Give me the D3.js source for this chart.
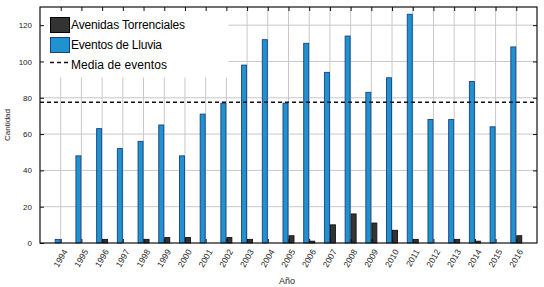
<!DOCTYPE html>
<html lang="en">
<head>
<meta charset="utf-8">
<title>Avenidas torrenciales y eventos de lluvia</title>
<script src="https://d3js.org/d3.v7.min.js"></script>
<style>
	body { margin: 0; background: #fff; }
	svg text { font-family: "Liberation Sans", Arial, Helvetica, sans-serif; fill: #222; }
</style>
</head>
<body>
<svg id="chart"></svg>
<script>
// data
let years = [1994, 1995, 1996, 1997, 1998, 1999, 2000, 2001, 2002, 2003, 2004, 2005,
	2006, 2007, 2008, 2009, 2010, 2011, 2012, 2013, 2014, 2015, 2016]
let lluvia = [2, 48, 63, 52, 56, 65, 48, 71, 77, 98, 112, 77,
	110, 94, 114, 83, 91, 126, 68, 68, 89, 64, 108]
let avenidas = [0, 0, 2, 0, 2, 3, 3, 0, 3, 2, 0, 4,
	1, 10, 16, 11, 7, 2, 0, 2, 1, 0, 4]
let yTicks = [0, 20, 40, 60, 80, 100, 120]
let legendLabels = ['Avenidas Torrenciales', 'Eventos de Lluvia', 'Media de eventos']

let w = 544, h = 287
let pLeft = 40, pRight = 537, pTop = 7, pBottom = 243
let barW = 5

let svg = d3.select('#chart').attr('width', w).attr('height', h)

let x = d3.scaleLinear().domain([1993, 2017]).range([pLeft, pRight])
let y = d3.scaleLinear().domain([0, 130]).range([pBottom, pTop])

// grid
let grid = svg.append('g')
grid.selectAll('line.v').data(years).enter().append('line')
	.attr('x1', d => x(d)).attr('x2', d => x(d))
	.attr('y1', pTop).attr('y2', pBottom)
	.attr('stroke', '#c8c8c8').attr('stroke-width', 1)
grid.selectAll('line.h').data(yTicks.slice(1)).enter().append('line')
	.attr('x1', pLeft).attr('x2', pRight)
	.attr('y1', d => y(d)).attr('y2', d => y(d))
	.attr('stroke', '#c8c8c8').attr('stroke-width', 1)

// bars
svg.append('g').selectAll('rect').data(years).enter().append('rect')
	.attr('x', d => x(d) - barW - 0.5)
	.attr('y', (d, i) => y(lluvia[i]))
	.attr('width', barW)
	.attr('height', (d, i) => y(0) - y(lluvia[i]))
	.attr('fill', '#1e93d0').attr('stroke', '#1b3f82').attr('stroke-width', 0.9)

svg.append('g').selectAll('rect').data(years.filter((d, i) => avenidas[i] > 0)).enter().append('rect')
	.attr('x', d => x(d) + 0.5)
	.attr('y', d => y(avenidas[years.indexOf(d)]))
	.attr('width', barW)
	.attr('height', d => y(0) - y(avenidas[years.indexOf(d)]))
	.attr('fill', '#333').attr('stroke', '#111').attr('stroke-width', 0.9)

// mean line
let mean = d3.mean(lluvia)
svg.append('line')
	.attr('x1', pLeft).attr('x2', pRight)
	.attr('y1', y(mean)).attr('y2', y(mean))
	.attr('stroke', '#111').attr('stroke-width', 1.6)
	.attr('stroke-dasharray', '4,3')

// legend
let lg = svg.append('g')
lg.append('rect').attr('x', pLeft + 0.5).attr('y', pTop + 0.5)
	.attr('width', 188).attr('height', 70).attr('fill', '#fff')
lg.append('rect').attr('x', 50.5).attr('y', 17.5).attr('width', 19).attr('height', 15)
	.attr('fill', '#333').attr('stroke', '#000')
lg.append('rect').attr('x', 50.5).attr('y', 37.5).attr('width', 19).attr('height', 15)
	.attr('fill', '#1e93d0').attr('stroke', '#1b3f82')
lg.append('line').attr('x1', 50).attr('x2', 70).attr('y1', 62.5).attr('y2', 62.5)
	.attr('stroke', '#111').attr('stroke-width', 1.6).attr('stroke-dasharray', '4,3')
lg.selectAll('text').data(legendLabels).enter().append('text')
	.attr('x', 71).attr('y', (d, i) => 24.5 + i * 20)
	.attr('dy', '0.35em')
	.attr('font-size', 12)
	.attr('textLength', (d, i) => [114, 91, 96][i])
	.style('fill', '#000')
	.text(d => d)

// frame
svg.append('rect').attr('x', pLeft).attr('y', pTop)
	.attr('width', pRight - pLeft).attr('height', pBottom - pTop)
	.attr('fill', 'none').attr('stroke', '#111').attr('stroke-width', 1.2)

// axes with inward ticks
let yAxis = d3.axisLeft(y).tickValues(yTicks).tickSize(-4).tickPadding(8)
svg.append('g').attr('transform', `translate(${pLeft},0)`).call(yAxis)
	.call(g => g.select('.domain').remove())
	.call(g => g.selectAll('text').attr('font-size', 8))
svg.append('g').attr('transform', `translate(${pRight},0)`)
	.call(d3.axisRight(y).tickValues(yTicks.slice(1)).tickSize(-4).tickFormat(''))
	.call(g => g.select('.domain').remove())
svg.append('g').attr('transform', `translate(0,${pTop})`)
	.call(d3.axisTop(x).tickValues(years).tickSize(-4).tickFormat(''))
	.call(g => g.select('.domain').remove())

let xAxis = d3.axisBottom(x).tickValues(years).tickSize(-4).tickFormat(d3.format('d'))
svg.append('g').attr('transform', `translate(0,${pBottom})`).call(xAxis)
	.call(g => g.select('.domain').remove())
	.call(g => g.selectAll('text')
		.attr('font-size', 8.5)
		.attr('text-anchor', 'end')
		.attr('transform', 'translate(4,7) rotate(-60)')
		.attr('dy', '0.35em')
		.attr('y', 0).attr('x', 0))

svg.selectAll('.tick line').attr('stroke', '#111')

// axis titles
svg.append('text').attr('x', 287).attr('y', 284)
	.attr('text-anchor', 'middle').attr('font-size', 9).text('Año')
svg.append('text').attr('transform', 'translate(10,125) rotate(-90)')
	.attr('text-anchor', 'middle').attr('font-size', 8).text('Cantidad')
</script>
</body>
</html>
